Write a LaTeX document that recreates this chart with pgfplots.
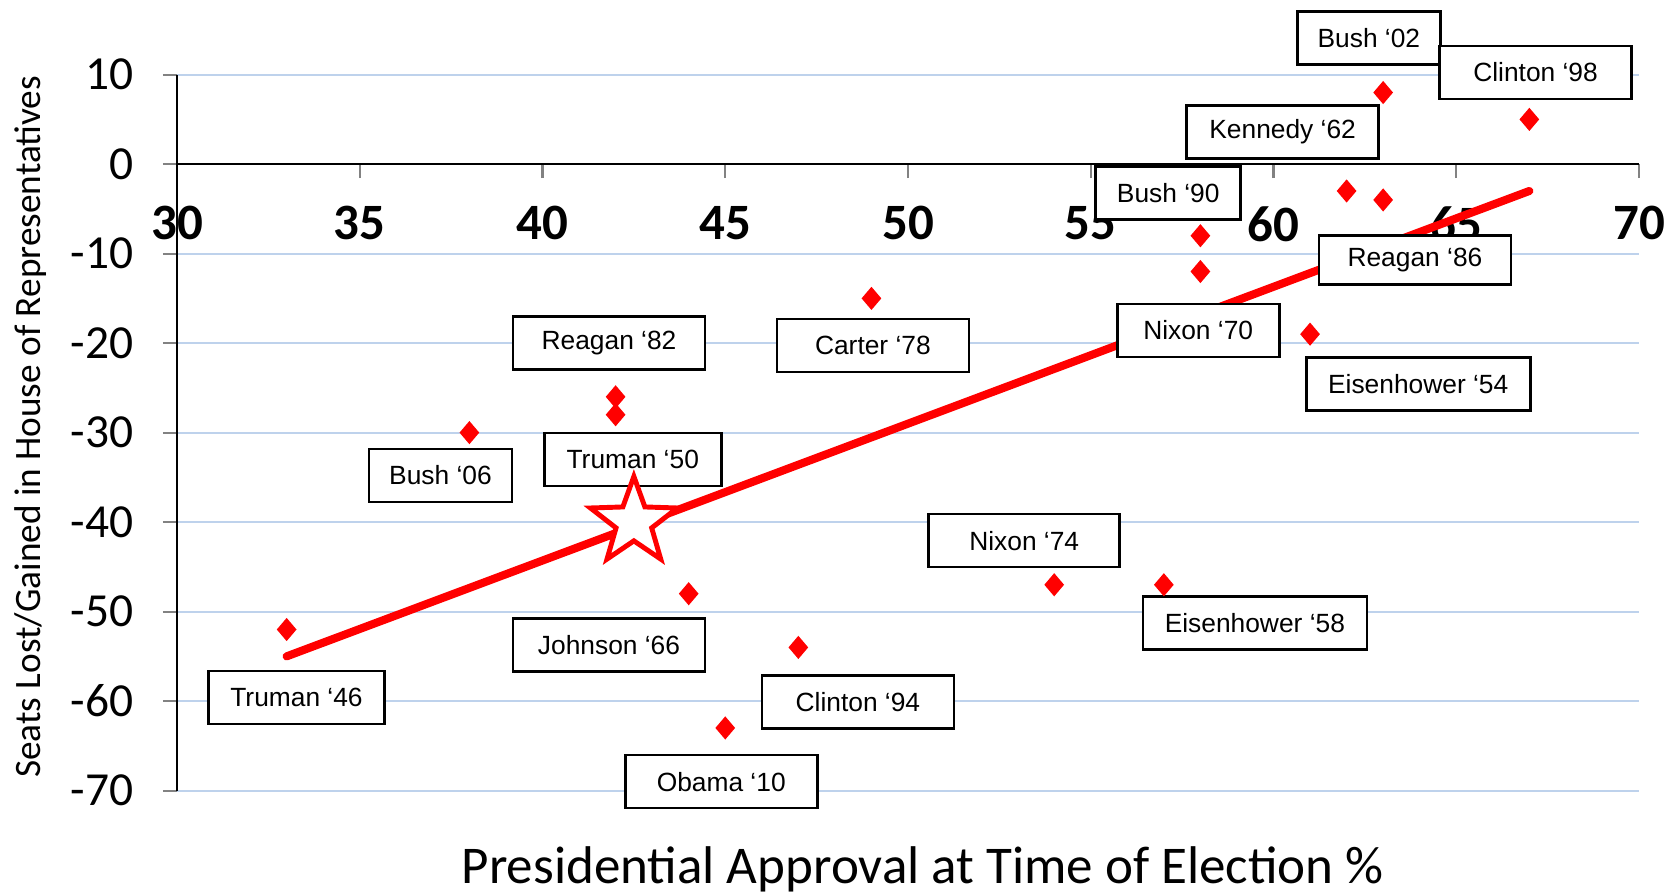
\documentclass[border=0pt]{standalone}
\usepackage{fontspec}
\setmainfont{Carlito}
\newfontfamily\arialf{Liberation Sans}
\usepackage{pgfplots}
\pgfplotsset{compat=1.18}

\definecolor{gridblue}{RGB}{190,210,236}
\definecolor{tickgray}{RGB}{130,130,130}

% filled diamond, a bit squarer than the stock one
\pgfdeclareplotmark{rhomb}{%
  \pgfpathmoveto{\pgfqpoint{0pt}{\pgfplotmarksize}}%
  \pgfpathlineto{\pgfqpoint{0.85\pgfplotmarksize}{0pt}}%
  \pgfpathlineto{\pgfqpoint{0pt}{-\pgfplotmarksize}}%
  \pgfpathlineto{\pgfqpoint{-0.85\pgfplotmarksize}{0pt}}%
  \pgfpathclose\pgfusepathqfill}
% hollow five-pointed star
\pgfdeclareplotmark{fivestar}{%
  \pgfpathmoveto{\pgfpointpolar{90}{\pgfplotmarksize}}%
  \pgfpathlineto{\pgfpointpolar{126}{0.41\pgfplotmarksize}}%
  \pgfpathlineto{\pgfpointpolar{162}{\pgfplotmarksize}}%
  \pgfpathlineto{\pgfpointpolar{198}{0.41\pgfplotmarksize}}%
  \pgfpathlineto{\pgfpointpolar{234}{\pgfplotmarksize}}%
  \pgfpathlineto{\pgfpointpolar{270}{0.41\pgfplotmarksize}}%
  \pgfpathlineto{\pgfpointpolar{306}{\pgfplotmarksize}}%
  \pgfpathlineto{\pgfpointpolar{342}{0.41\pgfplotmarksize}}%
  \pgfpathlineto{\pgfpointpolar{18}{\pgfplotmarksize}}%
  \pgfpathlineto{\pgfpointpolar{54}{0.41\pgfplotmarksize}}%
  \pgfpathclose\pgfusepathqfillstroke}

\begin{document}
\begin{tikzpicture}[
  lbl/.style={draw=black, line width=0.75pt, fill=white, inner sep=0pt,
    minimum height=5.3mm, anchor=center,
    font=\arialf\fontsize{7.5}{9}\selectfont}]
\begin{axis}[
  set layers,
  at={(17.7mm,10.34mm)}, anchor=south west,
  scale only axis, width=146.2mm, height=71.6mm,
  xmin=30, xmax=70, ymin=-70, ymax=10,
  axis x line*=middle, axis y line*=left,
  hide obscured x ticks=false, hide obscured y ticks=false,
  xtick={30,35,...,70}, ytick={-70,-60,...,10},
  ymajorgrids, major grid style={gridblue, line width=0.6pt},
  tick align=outside, major tick length=1.4mm,
  tick style={tickgray, line width=0.6pt},
  axis line style={black, line width=0.6pt, -},
  /pgf/number format/assume math mode=true,
  yticklabel style={font=\fontsize{13.5}{16}\selectfont, xshift=-1.7mm},
  xticklabel style={font=\bfseries\fontsize{14.5}{17}\selectfont, yshift=-1.6mm},
  xlabel={Presidential Approval at Time of Election \%},
  ylabel={Seats Lost/Gained in House of Representatives},
  xlabel style={font=\fontsize{15.1}{18}\selectfont,
    at={(axis description cs:0.51,-0.110)}, anchor=center},
  ylabel style={font=\fontsize{10.6}{13}\selectfont,
    at={(axis description cs:-0.1005,0.508)}, anchor=center},
  clip=false,
]
% trend line
\addplot[red, line width=2.3pt, line cap=round] coordinates {(33,-55) (67,-3)};

% midterm elections
\addplot[only marks, mark=rhomb, mark size=3.3pt, color=red] coordinates {
  (33,-52) (38,-30) (42,-26) (42,-28) (44,-48) (47,-54) (45,-63)
  (49,-15) (54,-47) (57,-47) (58,-8) (58,-12) (61,-19) (62,-3)
  (63,-4) (63,8) (67,5)
};

\node[lbl, minimum width=14.3mm] at (axis cs:62.61,14.06) {Bush ‘02};
\node[lbl, minimum width=19.2mm] at (axis cs:67.17,10.25) {Clinton ‘98};
\node[lbl, minimum width=19.2mm] at (axis cs:60.25,3.58) {Kennedy ‘62};
\node[lbl, minimum width=14.5mm] at (axis cs:57.12,-3.22) {Bush ‘90};
\node[lbl, minimum width=19.2mm, minimum height=4.9mm] at (axis cs:63.87,-10.73) {Reagan ‘86};
\node[lbl, minimum width=16.2mm] at (axis cs:57.94,-18.59) {Nixon ‘70};
\node[lbl, minimum width=22.4mm] at (axis cs:63.96,-24.55) {Eisenhower ‘54};
\node[lbl, minimum width=19.2mm] at (axis cs:49.04,-20.26) {Carter ‘78};
\node[lbl, minimum width=19.2mm] at (axis cs:41.82,-20.02) {Reagan ‘82};
\node[lbl, minimum width=17.7mm] at (axis cs:42.47,-33.02) {Truman ‘50};
\node[lbl, minimum width=14.3mm] at (axis cs:37.21,-34.8) {Bush ‘06};
\node[lbl, minimum width=19.1mm] at (axis cs:53.18,-42.07) {Nixon ‘74};
\node[lbl, minimum width=22.4mm] at (axis cs:59.49,-51.25) {Eisenhower ‘58};
\node[lbl, minimum width=19.2mm] at (axis cs:41.82,-53.75) {Johnson ‘66};
\node[lbl, minimum width=19.2mm] at (axis cs:48.63,-60.07) {Clinton ‘94};
\node[lbl, minimum width=17.6mm] at (axis cs:33.27,-59.6) {Truman ‘46};
\node[lbl, minimum width=19.2mm] at (axis cs:44.89,-69.0) {Obama ‘10};

% current election
\addplot[only marks, mark=fivestar, mark size=13pt,
  mark options={draw=red, fill=white, line width=1.4pt}] coordinates {(42.5,-40)};
\end{axis}
\pgfresetboundingbox
\useasboundingbox (0,0) rectangle (167.3mm,89.4mm);
\end{tikzpicture}
\end{document}
